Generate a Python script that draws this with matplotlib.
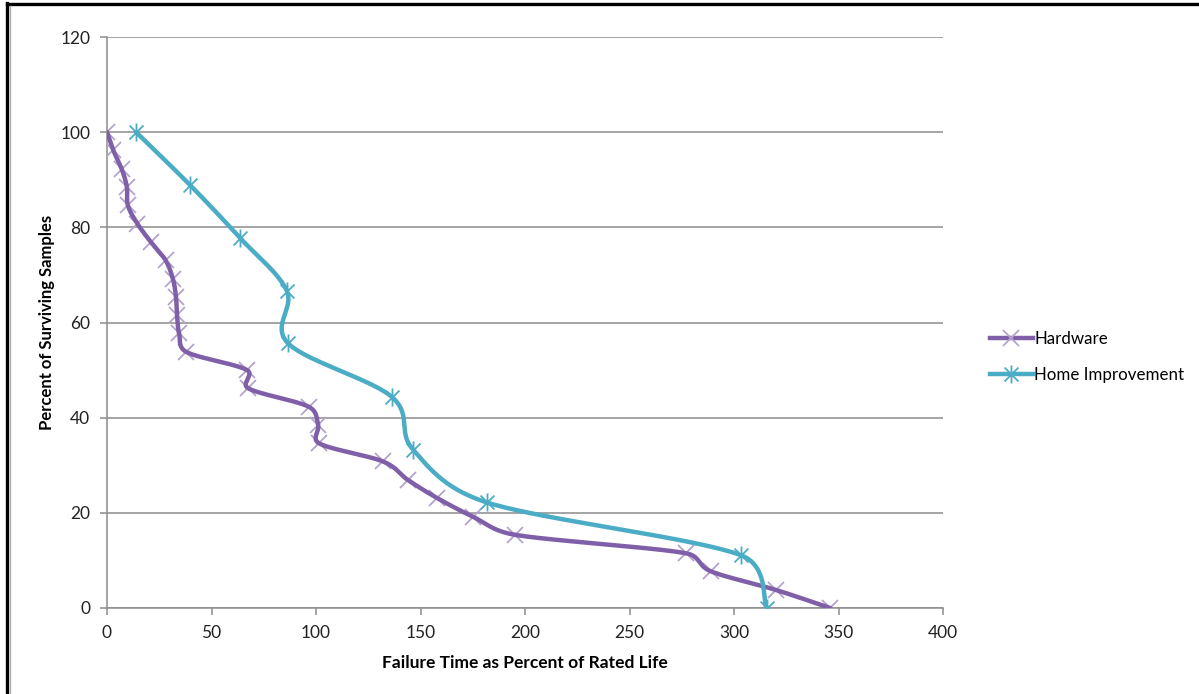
import numpy as np
import matplotlib.pyplot as plt
from matplotlib.path import Path
from matplotlib.lines import Line2D

# failure time (% of rated life) vs. percent of samples still surviving
hardware_time = [0, 3, 7, 9.5, 10, 14.5, 21, 28, 31.5, 33, 33.5, 34.5, 38,
                 67, 67.5, 96.5, 101, 101.5, 132, 144, 158, 175, 195,
                 277, 289, 320, 346]
hardware_surviving = [100, 96.2, 92.3, 88.5, 84.6, 80.8, 76.9, 73.1, 69.2,
                      65.4, 61.5, 57.7, 53.8, 50.0, 46.2, 42.3, 38.5, 34.6,
                      30.8, 26.9, 23.1, 19.2, 15.4, 11.5, 7.7, 3.8, 0]

home_time = [13.9, 39.7, 63.6, 86, 86.7, 136.2, 146.4, 181.6, 303.3, 315.6]
home_surviving = [100, 88.9, 77.8, 66.7, 55.6, 44.4, 33.3, 22.2, 11.1, 0]

x_ticks = [0, 50, 100, 150, 200, 250, 300, 350, 400]
y_ticks = [0, 20, 40, 60, 80, 100, 120]

purple = "#7f60a8"
purple_light = "#b5a3cc"
aqua = "#4bacc6"
axis_gray = "#8c8c8c"

plt.rcParams["font.family"] = ["Lato", "DejaVu Sans"]

# asterisk marker: an x with a vertical bar through it
star = Path([(-1, -1), (1, 1), (-1, 1), (1, -1), (0, -1.3), (0, 1.3)],
            [Path.MOVETO, Path.LINETO, Path.MOVETO, Path.LINETO,
             Path.MOVETO, Path.LINETO])


def smooth(ax, xs, ys, n=40):
    # bezier smoothing done in pixel space so the curve looks the same on screen
    pts = ax.transData.transform(np.column_stack([xs, ys]))

    def clamp(v, seg):
        # keep handles shorter than half the segment to avoid loops
        lim = 0.5 * np.hypot(*seg)
        ln = np.hypot(*v)
        return v if ln <= lim else v * lim / ln

    out = []
    for i in range(len(pts) - 1):
        p0 = pts[max(i - 1, 0)]
        p1 = pts[i]
        p2 = pts[i + 1]
        p3 = pts[min(i + 2, len(pts) - 1)]
        c1 = p1 + clamp((p2 - p0) / 6, p2 - p1)
        c2 = p2 - clamp((p3 - p1) / 6, p2 - p1)
        t = np.linspace(0, 1, n)[:, None]
        seg = ((1 - t) ** 3) * p1 + 3 * ((1 - t) ** 2) * t * c1 \
            + 3 * (1 - t) * t ** 2 * c2 + t ** 3 * p2
        out.append(seg if i == 0 else seg[1:])
    out = ax.transData.inverted().transform(np.vstack(out))
    return out[:, 0], out[:, 1]


fig = plt.figure(figsize=(11.99, 6.94), dpi=100)
ax = fig.add_axes([107 / 1199, 1 - 608 / 694, (943 - 107) / 1199, (608 - 37) / 694])
ax.set_xlim(0, 400)
ax.set_ylim(0, 120)

ax.set_xticks(x_ticks)
ax.set_yticks(y_ticks)
ax.yaxis.grid(True, color=axis_gray, lw=1.1)
ax.set_axisbelow(True)
for side in ["top", "right"]:
    ax.spines[side].set_visible(False)
for side in ["left", "bottom"]:
    ax.spines[side].set_color(axis_gray)
    ax.spines[side].set_linewidth(1.1)
ax.tick_params(axis="both", colors=axis_gray, length=5, width=1.1,
               labelsize=12.5, labelcolor="#222222")
ax.tick_params(axis="y", pad=7)
ax.tick_params(axis="x", pad=7)

ax.plot(hardware_time, hardware_surviving, ls="none", marker="x", ms=11,
        mew=1.3, color=purple_light, zorder=3)
hx, hy = smooth(ax, hardware_time, hardware_surviving)
ax.plot(hx, hy, color=purple, lw=3.2, zorder=4, solid_capstyle="round")

mx, my = smooth(ax, home_time, home_surviving)
ax.plot(mx, my, color=aqua, lw=3.2, zorder=4, solid_capstyle="round")
ax.plot(home_time, home_surviving, ls="none", marker=star, ms=13, mew=1.3,
        mfc="none", color=aqua, zorder=5)

ax.set_xlabel("Failure Time as Percent of Rated Life", fontsize=12.5,
              fontweight="bold")
ax.set_ylabel("Percent of Surviving Samples", fontsize=12,
              fontweight="bold")
ax.xaxis.set_label_coords(0.5, -0.083)
ax.yaxis.set_label_coords(-0.062, 0.5)

handles = [
    Line2D([], [], color=purple, lw=3.2, marker="x", ms=11, mew=1.3,
           mec=purple_light),
    Line2D([], [], color=aqua, lw=3.2, marker=star, ms=13, mew=1.3,
           mfc="none"),
]
fig.legend(handles, ["Hardware", "Home Improvement"], loc="center left",
           bbox_to_anchor=(975 / 1199, 1 - 357 / 694), frameon=False,
           fontsize=12.2, handlelength=2.5, handletextpad=0.1,
           labelspacing=1.15)

# border lines along the left and top of the chart area
fig.add_artist(Line2D([7 / 1199, 7 / 1199], [0, 1 - 3 / 694], color="black", lw=2.4))
fig.add_artist(Line2D([7 / 1199, 1], [1 - 4 / 694, 1 - 4 / 694], color="black", lw=2.4))
fig.add_artist(Line2D([10.5 / 1199, 10.5 / 1199], [0, 1 - 6 / 694], color="#b0b0b0", lw=1))

fig.savefig("out.png", dpi=100)
